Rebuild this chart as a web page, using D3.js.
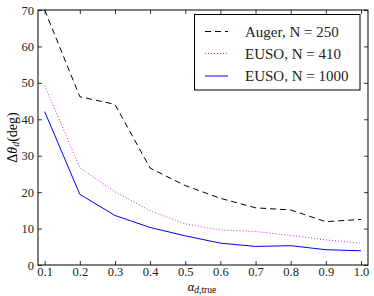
<!DOCTYPE html>
<html>
<head>
<meta charset="utf-8">
<script src="https://cdn.jsdelivr.net/npm/d3@7"></script>
<style>
  body { margin: 0; background: #fff; }
</style>
</head>
<body>
<svg id="chart" width="374" height="296"></svg>
<script>
const alphas = [0.1, 0.2, 0.3, 0.4, 0.5, 0.6, 0.7, 0.8, 0.9, 1.0];
const auger250 = [70, 46.2, 44.1, 26.6, 21.8, 18.3, 15.7, 15.1, 11.9, 12.5];
const euso410 = [49.2, 26.7, 20.1, 14.9, 11.3, 9.6, 9.2, 8.1, 6.9, 6.0];
const euso1000 = [42.1, 19.4, 13.6, 10.3, 8.0, 6.0, 5.1, 5.3, 4.2, 3.9];
const xTicks = alphas;
const yTicks = [0, 10, 20, 30, 40, 50, 60, 70];

const serif = '"Liberation Serif", "Times New Roman", serif';

const series = [
  { name: 'Auger, N = 250', values: auger250, color: '#000', dash: '6,4', width: 1 },
  { name: 'EUSO, N = 410', values: euso410, color: '#e020e0', dash: '1,2', width: 1 },
  { name: 'EUSO, N = 1000', values: euso1000, color: '#0000ff', dash: null, width: 1 },
];

const svg = d3.select('#chart').style('font-family', serif);
const margin = { left: 38, right: 6, top: 10, bottom: 31 };
const W = 374, H = 296;

const x = d3.scaleLinear().domain([0.081, 1.02]).range([margin.left, W - margin.right]);
const y = d3.scaleLinear().domain([0, 70]).range([H - margin.bottom, margin.top]);

const line = d3.line().x(d => x(d[0])).y(d => y(d[1]));

// lines, clipped to plot area
svg.append('clipPath').attr('id', 'clip').append('rect')
  .attr('x', x.range()[0]).attr('y', y.range()[1])
  .attr('width', x.range()[1] - x.range()[0]).attr('height', y.range()[0] - y.range()[1]);

const lines = svg.append('g').attr('clip-path', 'url(#clip)');
series.forEach(s => {
  lines.append('path')
    .datum(alphas.map((a, i) => [a, s.values[i]]))
    .attr('d', line)
    .attr('fill', 'none')
    .attr('stroke', s.color)
    .attr('stroke-width', s.width)
    .attr('stroke-dasharray', s.dash);
});

// axes with inward ticks on all four sides
const tickLen = 4;
const axisStyle = g => {
  g.attr('font-family', null);
  g.select('.domain').remove();
  g.selectAll('.tick line').attr('stroke', '#000').attr('stroke-width', 0.8);
  g.selectAll('.tick text').attr('font-size', 12.5).attr('fill', '#222').style('font-family', serif);
};

svg.append('g').attr('transform', `translate(0,${y(0)})`)
  .call(d3.axisBottom(x).tickValues(xTicks).tickFormat(d3.format('.1f')).tickSizeInner(-tickLen).tickPadding(2.5))
  .call(axisStyle);
svg.append('g').attr('transform', `translate(0,${y(70)})`)
  .call(d3.axisTop(x).tickValues(xTicks).tickFormat('').tickSizeInner(-tickLen))
  .call(axisStyle);
svg.append('g').attr('transform', `translate(${x.range()[0]},0)`)
  .call(d3.axisLeft(y).tickValues(yTicks).tickFormat(d3.format('d')).tickSizeInner(-tickLen).tickPadding(4))
  .call(axisStyle);
svg.append('g').attr('transform', `translate(${x.range()[1]},0)`)
  .call(d3.axisRight(y).tickValues(yTicks).tickFormat('').tickSizeInner(-tickLen))
  .call(axisStyle);

// frame
svg.append('rect')
  .attr('x', x.range()[0]).attr('y', y.range()[1])
  .attr('width', x.range()[1] - x.range()[0]).attr('height', y.range()[0] - y.range()[1])
  .attr('fill', 'none').attr('stroke', '#000').attr('stroke-width', 1);

// axis labels
const xl = svg.append('text')
  .attr('x', 202).attr('y', 291)
  .attr('text-anchor', 'middle').attr('font-size', 12.5).style('font-family', serif);
xl.append('tspan').attr('font-style', 'italic').text('α');
xl.append('tspan').attr('font-size', 9.5).attr('dy', 2).attr('font-style', 'italic').text('d');
xl.append('tspan').attr('font-size', 9.5).text(',true');

const yl = svg.append('text')
  .attr('transform', `translate(17,${(y.range()[0] + y.range()[1]) / 2}) rotate(-90)`)
  .attr('text-anchor', 'middle').attr('font-size', 14).style('font-family', serif);
yl.append('tspan').text('Δ');
yl.append('tspan').attr('font-style', 'italic').text('θ');
yl.append('tspan').attr('font-size', 10).attr('dy', 2).attr('font-style', 'italic').text('d');
yl.append('tspan').attr('dy', -2).text('(deg)');

// legend
const leg = svg.append('g');
leg.append('rect').attr('x', 194.5).attr('y', 14.5).attr('width', 165.5).attr('height', 75.5)
  .attr('fill', '#fff').attr('stroke', '#000').attr('stroke-width', 1);
const rowY = [31.5, 53.5, 76];
series.forEach((s, i) => {
  leg.append('line').attr('x1', 205).attr('x2', 228).attr('y1', rowY[i]).attr('y2', rowY[i])
    .attr('stroke', s.color).attr('stroke-width', s.width).attr('stroke-dasharray', s.dash);
  leg.append('text').attr('x', 245).attr('y', rowY[i]).attr('dy', '0.35em')
    .attr('font-size', 15).attr('fill', '#222').style('font-family', serif).text(s.name);
});
</script>
</body>
</html>
